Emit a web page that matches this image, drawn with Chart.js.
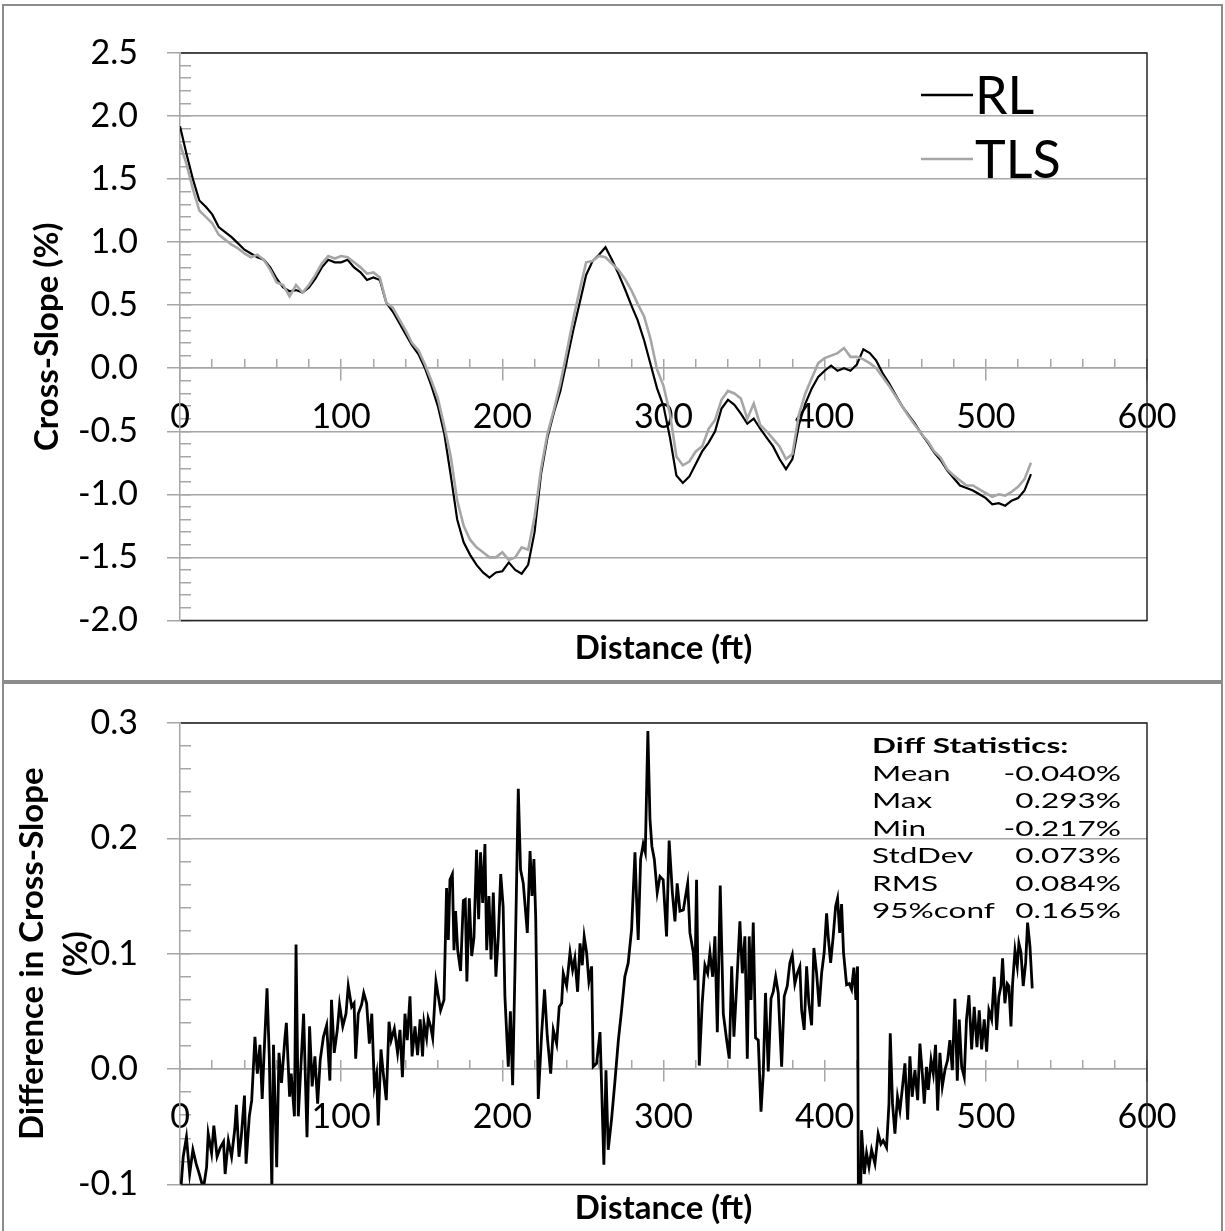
<!DOCTYPE html>
<html>
<head>
<meta charset="utf-8">
<script src="https://cdn.jsdelivr.net/npm/chart.js@4.4.1/dist/chart.umd.min.js"></script>
<style>
  html, body { margin: 0; padding: 0; background: #fff; }
  body { width: 1225px; height: 1231px; position: relative; overflow: hidden; }
  .panel { position: absolute; box-sizing: border-box; border: 2px solid #8c8c8c; }
  #panelTop { left: 2px; top: 4px; width: 1221px; height: 678px; }
  #panelBottom { left: 2px; top: 682px; width: 1221px; height: 560px; }
  canvas { position: absolute; left: 0; }
  #slopeChart { top: 0; }
  #diffChart { top: 683px; }
</style>
</head>
<body>
<div class="panel" id="panelTop"></div>
<div class="panel" id="panelBottom"></div>
<canvas id="slopeChart" width="1225" height="680"></canvas>
<canvas id="diffChart" width="1225" height="548"></canvas>
<script>
// station (ft) for the cross-slope profiles
const stationFt = [
  0, 4, 8, 12, 16, 20, 24, 28, 32, 36,
  40, 44, 48, 52, 56, 60, 64, 68, 72, 76,
  80, 84, 88, 92, 96, 100, 104, 108, 112, 116,
  120, 124, 128, 132, 136, 140, 144, 148, 152, 156,
  160, 164, 168, 172, 176, 180, 184, 188, 192, 196,
  200, 204, 208, 212, 216, 220, 224, 228, 232, 236,
  240, 244, 248, 252, 256, 260, 264, 268, 272, 276,
  280, 284, 288, 292, 296, 300, 304, 308, 312, 316,
  320, 324, 328, 332, 336, 340, 344, 348, 352, 356,
  360, 364, 368, 372, 376, 380, 384, 388, 392, 396,
  400, 404, 408, 412, 416, 420, 424, 428, 432, 436,
  440, 444, 448, 452, 456, 460, 464, 468, 472, 476,
  480, 484, 488, 492, 496, 500, 504, 508, 512, 516,
  520, 524, 528
];

const rlSlope = [
  1.92, 1.70, 1.50, 1.33, 1.28, 1.22, 1.12, 1.08, 1.04, 0.99,
  0.94, 0.91, 0.88, 0.86, 0.80, 0.71, 0.64, 0.61, 0.62, 0.60,
  0.64, 0.71, 0.80, 0.86, 0.84, 0.84, 0.86, 0.80, 0.76, 0.70,
  0.72, 0.70, 0.52, 0.45, 0.36, 0.27, 0.18, 0.11, 0.00, -0.14,
  -0.30, -0.52, -0.85, -1.20, -1.38, -1.48, -1.56, -1.62, -1.66, -1.62,
  -1.61, -1.54, -1.60, -1.63, -1.56, -1.30, -0.84, -0.55, -0.35, -0.18,
  0.06, 0.30, 0.52, 0.74, 0.85, 0.90, 0.96, 0.86, 0.75, 0.63,
  0.50, 0.38, 0.22, 0.03, -0.16, -0.30, -0.55, -0.85, -0.91, -0.86,
  -0.76, -0.66, -0.59, -0.50, -0.32, -0.25, -0.29, -0.36, -0.44, -0.40,
  -0.48, -0.55, -0.62, -0.72, -0.80, -0.72, -0.45, -0.28, -0.16, -0.07,
  -0.02, 0.02, -0.02, 0.00, -0.02, 0.03, 0.15, 0.12, 0.06, -0.04,
  -0.12, -0.21, -0.30, -0.37, -0.44, -0.52, -0.59, -0.67, -0.73, -0.81,
  -0.87, -0.93, -0.95, -0.97, -1.00, -1.03, -1.08, -1.07, -1.09, -1.05,
  -1.03, -0.97, -0.84
];

const tlsSlope = [
  1.78, 1.62, 1.42, 1.25, 1.20, 1.15, 1.06, 1.02, 0.98, 0.95,
  0.91, 0.88, 0.90, 0.86, 0.78, 0.68, 0.66, 0.57, 0.66, 0.60,
  0.66, 0.74, 0.83, 0.89, 0.87, 0.89, 0.88, 0.84, 0.80, 0.75,
  0.76, 0.72, 0.52, 0.48, 0.39, 0.30, 0.20, 0.14, 0.03, -0.10,
  -0.24, -0.46, -0.70, -1.05, -1.25, -1.36, -1.42, -1.46, -1.50, -1.50,
  -1.46, -1.52, -1.50, -1.42, -1.44, -1.18, -0.80, -0.52, -0.33, -0.12,
  0.13, 0.39, 0.62, 0.84, 0.85, 0.89, 0.88, 0.83, 0.78, 0.71,
  0.62, 0.51, 0.41, 0.23, -0.01, -0.14, -0.36, -0.70, -0.77, -0.74,
  -0.66, -0.62, -0.48, -0.41, -0.25, -0.18, -0.20, -0.24, -0.40, -0.28,
  -0.45, -0.50, -0.56, -0.62, -0.72, -0.68, -0.37, -0.20, -0.08, 0.04,
  0.08, 0.10, 0.12, 0.16, 0.09, 0.09, 0.07, 0.04, 0.00, -0.07,
  -0.14, -0.22, -0.30, -0.38, -0.45, -0.52, -0.58, -0.66, -0.71, -0.80,
  -0.85, -0.89, -0.93, -0.93, -0.96, -0.99, -1.02, -1.00, -1.01, -0.98,
  -0.94, -0.88, -0.75
];

// TLS minus RL, sampled where the trace turns
const diffFt = [
  0.5, 2, 4, 6, 8, 10, 12, 14.5, 16.5, 17.5, 19.6, 21, 23, 25, 27, 28, 30, 32, 34, 35,
  36.6, 38, 40, 41, 43, 44.5, 46.5, 48, 49.6, 51, 52, 54, 55.4, 57, 58, 60, 61.4, 63, 65, 66,
  68, 69, 71, 72, 73.4, 75, 76.7, 78.8, 80.4, 82, 83.7, 85.4, 87, 89, 91, 93, 94, 95.7, 97.6, 99,
  101, 103, 104.4, 106.5, 108, 109, 110.6, 112.7, 114, 115.8, 117.5, 119, 120.6, 122, 123, 124.7, 126, 128, 129.7, 131,
  133, 135, 136.5, 138, 139.6, 141, 142.7, 144, 145.8, 147.4, 149, 150.5, 151.4, 153, 154, 155.5, 156.8, 158.8, 160.3, 161.7,
  163.8, 165.4, 166.5, 167.5, 169, 170, 171, 172.3, 174.1, 175.8, 177, 178, 179.5, 181, 182.4, 184, 185.3, 186.5, 187.8, 189.2,
  190.3, 191.7, 193, 194.4, 196, 197.5, 199, 200.5, 201.6, 203.7, 205, 206.4, 207.8, 209.9, 211.3, 213, 215.5, 217.2, 218.4, 219.6,
  220.7, 222.3, 224.4, 226.2, 227.9, 230, 231.6, 233.7, 235.3, 236.8, 237.8, 239.9, 242, 243.6, 245, 246.7, 248.2, 249.6, 250.8, 252.3,
  253.7, 255.4, 256.4, 258.5, 260.6, 261.6, 263, 264.3, 265.7, 267.8, 269.9, 272, 274, 276, 278.1, 280.2, 282.3, 283.3, 284.3, 285.8,
  287.4, 288.7, 290.3, 291.6, 292.8, 294.3, 296.1, 297.8, 299.8, 301.9, 303.5, 305.5, 307.1, 308.5, 310.2, 312.3, 315, 316.4, 318.5, 319.5,
  320.5, 322.2, 324, 325.7, 327.4, 328.8, 330.5, 331.9, 333.4, 335.2, 337.1, 339.2, 340.8, 342.3, 343.7, 345.4, 347.4, 348.9, 350.5, 352,
  353.2, 354.3, 355.7, 357.1, 358.8, 360.5, 361.9, 363.3, 365, 366.7, 368.1, 369.6, 371.2, 373.3, 374.9, 376.8, 378.4, 379.9, 381.5, 383,
  384.6, 385.7, 387.3, 388.8, 390.2, 391.9, 393.3, 395, 396.6, 398.1, 399.7, 401.2, 402.2, 403.7, 405.3, 406.8, 408, 409.3, 410.5, 411.7,
  413.6, 415.3, 416.7, 418.1, 419.4, 420.4, 421.2, 422.9, 424.6, 426, 427.5, 429.1, 431.2, 433.2, 434.9, 436.3, 438.4, 439.9, 440.7, 442.1,
  443.6, 445.2, 446.7, 448.1, 449.8, 451.5, 452.9, 454.3, 456, 457.7, 459.1, 460.6, 461.8, 463.2, 464.3, 466, 467.4, 468.8, 470.1, 471.5,
  473, 474.6, 476.3, 477.7, 479.2, 480.8, 482.3, 483.5, 485, 486.6, 488, 489.5, 491.2, 492.8, 494.5, 495.9, 497.4, 499, 500.5, 501.9,
  503.6, 505.2, 506.7, 508.1, 509.4, 510.4, 511.8, 513.3, 514.3, 515.6, 516.6, 518.1, 519.5, 520.5, 521.8, 523.2, 524.7, 525.9, 527.4, 528.8
];

const diffPct = [
  -0.105, -0.076, -0.059, -0.091, -0.070, -0.082, -0.091, -0.104, -0.085, -0.056, -0.073, -0.049, -0.076, -0.068, -0.063, -0.091, -0.062, -0.076, -0.052, -0.031,
  -0.076, -0.059, -0.023, -0.082, -0.041, -0.027, 0.028, -0.004, 0.021, -0.026, 0.008, 0.070, 0.011, -0.104, 0.021, -0.085, 0.014, -0.012, 0.025, 0.040,
  -0.024, -0.004, -0.041, 0.108, -0.041, 0.002, 0.048, -0.059, 0.037, -0.015, 0.011, -0.030, 0.008, 0.028, 0.038, -0.010, 0.060, 0.014, 0.034, 0.056,
  0.037, 0.048, 0.072, 0.054, 0.057, 0.009, 0.048, 0.056, 0.066, 0.057, 0.022, 0.048, -0.015, -0.004, -0.049, 0.017, -0.002, -0.027, 0.041, 0.025,
  0.035, 0.014, 0.034, -0.007, 0.048, 0.025, 0.063, 0.011, 0.037, 0.012, 0.043, 0.011, 0.040, 0.027, 0.044, 0.037, 0.027, 0.076, 0.063, 0.051,
  0.060, 0.157, 0.112, 0.164, 0.169, 0.103, 0.137, 0.103, 0.085, 0.146, 0.147, 0.076, 0.148, 0.098, 0.114, 0.190, 0.130, 0.188, 0.144, 0.195,
  0.103, 0.150, 0.095, 0.153, 0.080, 0.115, 0.169, 0.141, 0.063, 0.002, 0.050, -0.014, 0.083, 0.243, 0.173, 0.161, 0.118, 0.189, 0.150, 0.182,
  0.132, -0.026, 0.031, 0.069, 0.028, -0.004, 0.034, 0.022, 0.054, 0.057, 0.083, 0.072, 0.101, 0.086, 0.096, 0.067, 0.109, 0.090, 0.115, 0.101,
  0.076, 0.089, 0.002, 0.005, 0.032, -0.015, -0.083, -0.001, -0.070, -0.043, -0.010, 0.025, 0.051, 0.080, 0.092, 0.121, 0.188, 0.147, 0.112, 0.182,
  0.195, 0.188, 0.293, 0.217, 0.193, 0.182, 0.153, 0.167, 0.164, 0.115, 0.198, 0.153, 0.128, 0.161, 0.137, 0.138, 0.161, 0.118, 0.101, 0.077,
  0.164, 0.003, 0.057, 0.090, 0.083, 0.101, 0.080, 0.115, 0.032, 0.159, 0.048, 0.025, 0.009, 0.089, 0.028, 0.072, 0.128, 0.083, 0.115, 0.009,
  0.115, 0.060, 0.127, 0.027, 0.025, -0.037, -0.004, 0.066, -0.002, 0.061, 0.067, 0.080, 0.066, 0.002, 0.063, 0.072, 0.092, 0.099, 0.074, 0.083,
  0.089, 0.051, 0.034, 0.089, 0.057, 0.038, 0.105, 0.083, 0.054, 0.083, 0.101, 0.135, 0.115, 0.092, 0.115, 0.141, 0.148, 0.118, 0.143, 0.101,
  0.073, 0.074, 0.069, 0.088, 0.060, 0.089, -0.217, -0.053, -0.091, -0.073, -0.085, -0.070, -0.082, -0.056, -0.065, -0.062, -0.068, -0.030, 0.031, -0.030,
  -0.056, -0.024, -0.036, -0.018, 0.005, -0.044, 0.011, -0.024, -0.001, -0.027, 0.022, -0.004, -0.030, 0.002, -0.018, 0.008, -0.004, 0.021, -0.036, 0.014,
  -0.015, -0.001, 0.008, 0.025, -0.001, 0.061, -0.010, 0.043, 0.002, -0.007, 0.043, 0.064, 0.017, 0.054, 0.019, 0.051, 0.017, 0.043, 0.015, 0.051,
  0.043, 0.080, 0.034, 0.063, 0.072, 0.096, 0.057, 0.074, 0.072, 0.037, 0.074, 0.103, 0.089, 0.109, 0.101, 0.072, 0.092, 0.127, 0.106, 0.070
];

const distTicks = [0, 100, 200, 300, 400, 500, 600];
const distTickLabels = ['0', '100', '200', '300', '400', '500', '600'];
const slopeTicks = [-2.0, -1.5, -1.0, -0.5, 0.0, 0.5, 1.0, 1.5, 2.0, 2.5];
const slopeTickLabels = ['-2.0', '-1.5', '-1.0', '-0.5', '0.0', '0.5', '1.0', '1.5', '2.0', '2.5'];
const diffTicks = [-0.1, 0.0, 0.1, 0.2, 0.3];
const diffTickLabels = ['-0.1', '0.0', '0.1', '0.2', '0.3'];

const statNames = ['Mean', 'Max', 'Min', 'StdDev', 'RMS', '95%conf'];
const statValues = ['-0.040%', '0.293%', '-0.217%', '0.073%', '0.084%', '0.165%'];

const GRID = '#a6a6a6';
const FONT = 'Lato';

function pairs(xs, ys) {
  return xs.map((x, i) => ({ x: x, y: ys[i] }));
}

// dark frame on top, right and bottom of the plot area
const plotFrame = {
  id: 'plotFrame',
  afterDraw(chart) {
    const { ctx, chartArea: a } = chart;
    ctx.save();
    ctx.strokeStyle = '#262626';
    ctx.lineWidth = 1.5;
    ctx.beginPath();
    ctx.moveTo(a.left + 1, a.top);
    ctx.lineTo(a.right, a.top);
    ctx.lineTo(a.right, a.bottom);
    ctx.lineTo(a.left + 1, a.bottom);
    ctx.stroke();
    ctx.restore();
  }
};

// series key in the upper right corner of the profile plot
const seriesKey = {
  id: 'seriesKey',
  afterDraw(chart) {
    const { ctx, chartArea: a } = chart;
    ctx.save();
    ctx.font = '52px ' + FONT;
    ctx.textBaseline = 'alphabetic';
    ctx.textAlign = 'left';
    chart.data.datasets.forEach((ds, i) => {
      const x = a.right - 226;
      const y = a.top + 42 + i * 64;
      ctx.strokeStyle = ds.borderColor;
      ctx.lineWidth = 2.5;
      ctx.beginPath();
      ctx.moveTo(x, y);
      ctx.lineTo(x + 52, y);
      ctx.stroke();
      ctx.fillStyle = '#000';
      ctx.fillText(ds.label, x + 54, y + 19);
    });
    ctx.restore();
  }
};

function wideText(ctx, text, x, y, align) {
  ctx.save();
  ctx.translate(x, y);
  ctx.scale(1.5, 1);
  ctx.textAlign = align;
  ctx.fillText(text, 0, 0);
  ctx.restore();
}

// statistics block for the difference plot
const statsNote = {
  id: 'statsNote',
  afterDraw(chart) {
    const { ctx, chartArea: a } = chart;
    const left = a.left + 692;
    const right = a.left + 941;
    ctx.save();
    ctx.fillStyle = '#000';
    ctx.textBaseline = 'alphabetic';
    ctx.font = 'bold 21px ' + FONT;
    wideText(ctx, 'Diff Statistics:', left, a.top + 30, 'left');
    ctx.font = '21px ' + FONT;
    statNames.forEach((name, i) => {
      const y = a.top + 58 + i * 27.4;
      wideText(ctx, name, left, y, 'left');
      wideText(ctx, statValues[i], right, y, 'right');
    });
    ctx.restore();
  }
};

function distanceAxes() {
  return {
    x: {
      type: 'linear', min: 0, max: 600,
      position: { y: 0 },
      afterBuildTicks: s => { s.ticks = distTicks.map(v => ({ value: v })); },
      ticks: {
        font: { family: FONT, size: 34 }, color: '#000', padding: 16,
        maxRotation: 0, autoSkip: false,
        callback: (v, i) => distTickLabels[i]
      },
      grid: { drawOnChartArea: false, tickLength: 12, color: GRID, lineWidth: 1.5 },
      border: { display: true, color: GRID, width: 1.5 }
    },
    xMinor: {
      axis: 'x', type: 'linear', min: 0, max: 600,
      position: { y: 0 },
      ticks: { display: false, stepSize: 20, autoSkip: false },
      grid: { drawOnChartArea: false, tickLength: -9, color: GRID, lineWidth: 1.5 },
      border: { display: false }
    }
  };
}

function valueAxes(min, max, ticks, labels, minorStep, width, title) {
  return {
    y: {
      type: 'linear', min: min, max: max, position: 'left',
      afterBuildTicks: s => { s.ticks = ticks.map(v => ({ value: v })); },
      // fixed axis width; end labels may overhang the plot edges
      afterFit: s => { s.width = width; s.paddingTop = 0; s.paddingBottom = 0; },
      ticks: {
        font: { family: FONT, size: 34 }, color: '#000', padding: 29,
        autoSkip: false, callback: (v, i) => labels[i]
      },
      grid: { color: GRID, lineWidth: 1.5, tickLength: 13 },
      border: { color: GRID, width: 1.5 },
      title: title
    },
    yMinor: {
      axis: 'y', type: 'linear', min: min, max: max,
      position: { x: 0 },
      ticks: { display: false, stepSize: minorStep, autoSkip: false },
      grid: { drawOnChartArea: false, tickLength: -11, color: GRID, lineWidth: 1.5 },
      border: { display: false }
    }
  };
}

function xTitle(padTop, padBottom) {
  return {
    display: true, text: 'Distance (ft)', position: 'bottom', fullSize: false,
    font: { family: FONT, size: 33, weight: 'bold' }, color: '#000',
    padding: { top: padTop, bottom: padBottom }
  };
}

new Chart(document.getElementById('slopeChart'), {
  type: 'line',
  data: {
    datasets: [
      {
        label: 'RL', data: pairs(stationFt, rlSlope),
        borderColor: '#000000', borderWidth: 2.2, pointRadius: 0, order: 1
      },
      {
        label: 'TLS', data: pairs(stationFt, tlsSlope),
        borderColor: '#a6a6a6', borderWidth: 2.6, pointRadius: 0, order: 0
      }
    ]
  },
  options: {
    responsive: false, animation: false, devicePixelRatio: 1,
    layout: { padding: { left: 20, top: 53, right: 78, bottom: 4 } },
    scales: Object.assign(
      distanceAxes(),
      valueAxes(-2.0, 2.5, slopeTicks, slopeTickLabels, 0.1, 160, {
        display: true, text: 'Cross-Slope (%)', color: '#000',
        font: { family: FONT, size: 33, weight: 'bold' },
        padding: { top: 8, bottom: 0 }
      })
    ),
    plugins: {
      legend: { display: false },
      tooltip: { enabled: false },
      title: xTitle(8, 8)
    }
  },
  plugins: [plotFrame, seriesKey]
});

new Chart(document.getElementById('diffChart'), {
  type: 'line',
  data: {
    datasets: [
      {
        label: 'Difference', data: pairs(diffFt, diffPct),
        borderColor: '#000000', borderWidth: 2.8, pointRadius: 0
      }
    ]
  },
  options: {
    responsive: false, animation: false, devicePixelRatio: 1,
    layout: { padding: { left: 10, top: 40, right: 78, bottom: 1 } },
    scales: Object.assign(
      distanceAxes(),
      valueAxes(-0.1, 0.3, diffTicks, diffTickLabels, 0.02, 170, {
        display: true, text: ['Difference in Cross-Slope', '(%)'], color: '#000',
        font: { family: FONT, size: 33, weight: 'bold', lineHeight: 1.35 },
        padding: { top: 0, bottom: 0 }
      })
    ),
    plugins: {
      legend: { display: false },
      tooltip: { enabled: false },
      title: xTitle(4, 2)
    }
  },
  plugins: [plotFrame, statsNote]
});
</script>
</body>
</html>
